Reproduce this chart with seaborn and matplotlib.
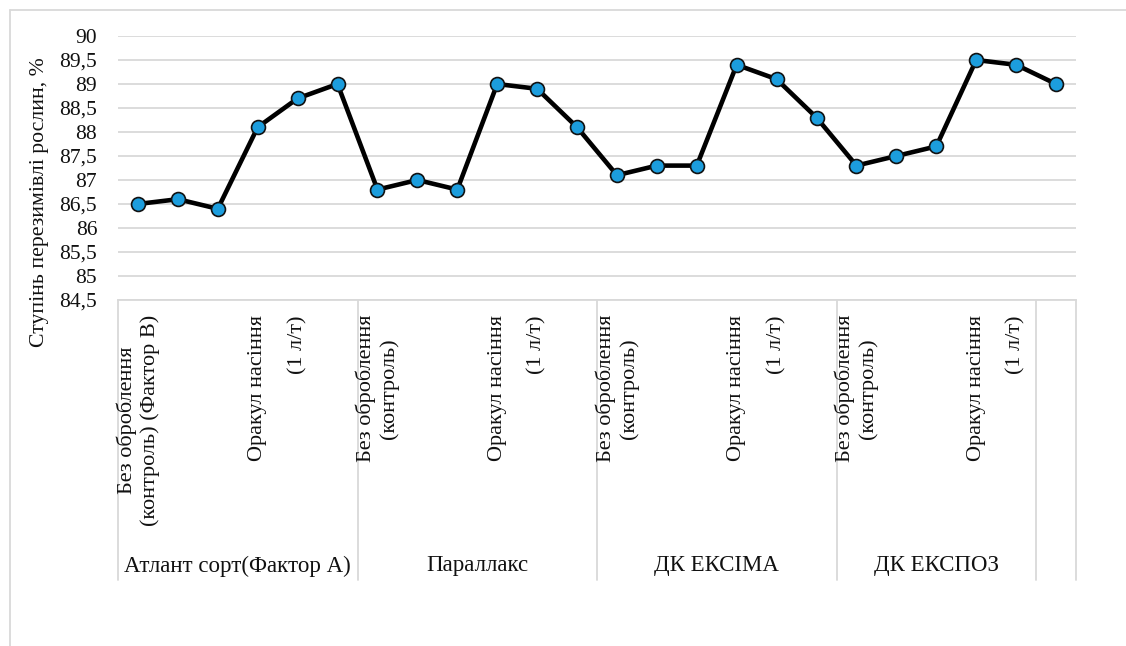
import matplotlib
matplotlib.use("Agg")
import matplotlib.pyplot as plt
from matplotlib.lines import Line2D
import seaborn as sns
import pandas as pd

# ---- data ----
values = [86.5, 86.6, 86.4, 88.1, 88.7, 89.0,
          86.8, 87.0, 86.8, 89.0, 88.9, 88.1,
          87.1, 87.3, 87.3, 89.4, 89.1, 88.3,
          87.3, 87.5, 87.7, 89.5, 89.4, 89.0]
cat_labels = ["Без оброблення\n(контроль) (Фактор В)", "", "", "Оракул насіння", "(1 л/т)", "",
              "Без оброблення\n(контроль)", "", "", "Оракул насіння", "(1 л/т)", "",
              "Без оброблення\n(контроль)", "", "", "Оракул насіння", "(1 л/т)", "",
              "Без оброблення\n(контроль)", "", "", "Оракул насіння", "(1 л/т)", ""]
group_names = ["Атлант сорт(Фактор А)", "Параллакс", "ДК ЕКСІМА", "ДК ЕКСПОЗ", ""]
group_sizes = [6, 6, 6, 5, 1]
y_ticks = [84.5, 85, 85.5, 86, 86.5, 87, 87.5, 88, 88.5, 89, 89.5, 90]
y_tick_labels = ["84,5", "85", "85,5", "86", "86,5", "87", "87,5", "88", "88,5", "89", "89,5", "90"]
y_label = "Ступінь перезимівлі рослин, %"

sns.set_theme(style="white")
plt.rcParams["font.family"] = ["Liberation Serif", "DejaVu Serif"]

W, H = 1126, 646
fig = plt.figure(figsize=(W / 100, H / 100), dpi=100)
ax = fig.add_axes([118 / W, 1 - 300 / H, (1076 - 118) / W, (300 - 36) / H])

df = pd.DataFrame({"pos": list(range(len(values))), "value": values})
sns.lineplot(data=df, x="pos", y="value", ax=ax, color="black", linewidth=3.3,
             marker="o", markersize=10, markerfacecolor="#1c9ddd",
             markeredgecolor="#111111", markeredgewidth=1.2, zorder=5)

grid_c = "#d9d9d9"
txt_c = "#111111"
ax.set_xlim(-0.5, len(values) - 0.5)
ax.set_ylim(84.5, 90)
ax.set_yticks(y_ticks)
ax.set_yticklabels(y_tick_labels, fontsize=15.5)
ax.tick_params(axis="y", length=0, pad=15, colors=txt_c)
ax.set_xticks([])
ax.yaxis.grid(True, color=grid_c, linewidth=1.3)
ax.set_axisbelow(True)
for s in ["top", "right", "left"]:
    ax.spines[s].set_visible(False)
ax.spines["bottom"].set_color(grid_c)
ax.spines["bottom"].set_linewidth(1.3)
ax.set_xlabel("")
ax.set_ylabel("")

trans = ax.get_xaxis_transform()
axh = 300 - 36
# category labels
for i, lab in enumerate(cat_labels):
    if lab:
        ax.text(i, -15 / axh, lab, transform=trans, rotation=90, ha="center", va="top",
                multialignment="center", fontsize=16, color=txt_c, linespacing=1.2)

# group separators and labels
start = -0.5
bounds = [start]
for g, n in zip(group_names, group_sizes):
    end = start + n
    if g:
        ax.text((start + end) / 2, -(566 - 300) / axh, g, transform=trans,
                ha="center", va="center", fontsize=16.5, color=txt_c)
    bounds.append(end)
    start = end
for b in bounds:
    ax.add_line(Line2D([b, b], [0, -(580 - 300) / axh], transform=trans, color=grid_c,
                       linewidth=1.3, clip_on=False))

# y label
fig.text(40 / W, 1 - 202 / H, y_label, rotation=90, ha="center", va="center",
         fontsize=15.7, color=txt_c)

# outer chart frame (partially visible)
fig.add_artist(Line2D([10 / W, 10 / W], [0, 1 - 10 / H], transform=fig.transFigure,
                      color=grid_c, linewidth=1.3))
fig.add_artist(Line2D([10 / W, 1], [1 - 10 / H, 1 - 10 / H], transform=fig.transFigure,
                      color=grid_c, linewidth=1.3))

fig.savefig("out.png", dpi=100, facecolor="white")
